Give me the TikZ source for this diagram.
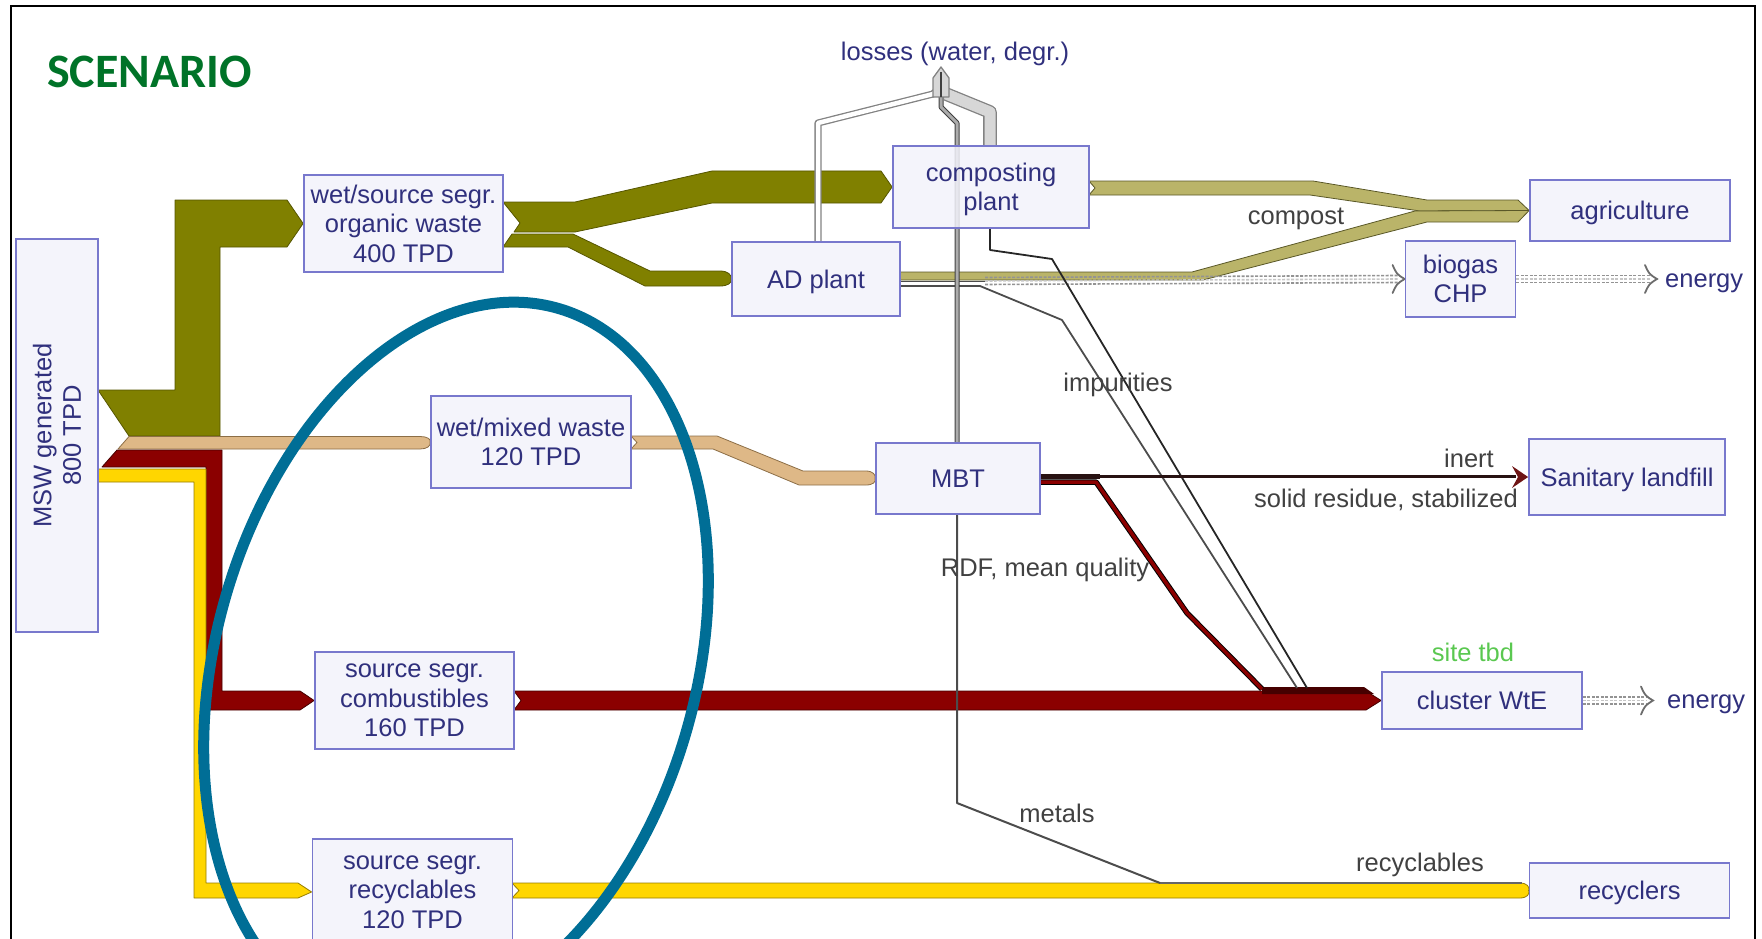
\documentclass[tikz,border=0pt]{standalone}
\usepackage{fontspec}
\setmainfont{Liberation Sans}
\newfontfamily\scenfont{Carlito}
\usetikzlibrary{calc}
\pgfdeclarelayer{bg}
\pgfsetlayers{bg,main}
\definecolor{boxline}{RGB}{120,120,205}
\definecolor{boxfill}{RGB}{242,242,250}
\definecolor{boxtext}{RGB}{48,48,125}
\definecolor{labtext}{RGB}{65,65,65}
\definecolor{olivef}{RGB}{128,128,0}
\definecolor{olived}{RGB}{85,85,0}
\definecolor{khakif}{RGB}{186,180,105}
\definecolor{khakid}{RGB}{90,88,40}
\definecolor{tanf}{RGB}{222,184,135}
\definecolor{tand}{RGB}{140,110,70}
\definecolor{redf}{RGB}{139,0,0}
\definecolor{redd}{RGB}{70,0,0}
\definecolor{yelf}{RGB}{255,214,0}
\definecolor{yeld}{RGB}{150,125,0}
\definecolor{ellc}{RGB}{0,110,150}
\definecolor{scen}{RGB}{0,115,40}
\definecolor{sitec}{RGB}{90,200,80}
\definecolor{lossd}{RGB}{130,130,130}
\definecolor{lossf}{RGB}{215,215,215}
\definecolor{inertc}{RGB}{40,18,18}
\definecolor{inerth}{RGB}{110,20,20}
\newcommand{\bfnt}{\fontsize{25.5}{29.5}\selectfont}
\newcommand\enarrow[2]{%
 \draw[enline] ($(#1)+(0,-3.5)$) -- ($(#2)+(-7,-3.5)$);
 \draw[enline] ($(#1)+(0,3.5)$) -- ($(#2)+(-7,3.5)$);
 \draw[enline,draw=gray!45] (#1) -- ($(#2)+(-7,0)$);
 \draw[enhead] ($(#2)+(-12,-14)$) .. controls ($(#2)+(-8,-5)$) .. (#2) .. controls ($(#2)+(-8,5)$) .. ($(#2)+(-12,14)$);
}
\begin{document}
\begin{tikzpicture}[x=1pt,y=-1pt,
 box/.style={draw=boxline, line width=1.8pt, fill=boxfill, fill opacity=0.85, text opacity=1, text=boxtext, font=\bfnt, align=center, inner sep=0pt},
 flat/.style={text depth=0pt},
 lab/.style={text=labtext, font=\bfnt, inner sep=0pt, text depth=0pt},
 flowo/.style={fill=olivef, draw=olived, line width=0.8pt, line join=round},
 flowk/.style={fill=khakif, draw=khakid, line width=0.8pt, line join=round},
 flowt/.style={fill=tanf, draw=tand, line width=0.8pt, line join=round},
 flowr/.style={fill=redf, draw=redd, line width=0.8pt, line join=round},
 flowy/.style={fill=yelf, draw=yeld, line width=0.8pt, line join=round},
 lossdbl/.style={draw=lossd, line width=1.3pt, double=white, double distance=4.5pt, line join=round},
 losswide/.style={draw=lossd, line width=1.3pt, double=lossf, double distance=11pt, line join=round},
 lossmid/.style={draw=gray!50!black, line width=1pt, double=gray!65, double distance=3pt, line join=round},
 imp/.style={draw=black!85, line width=1.8pt, line join=round},
 metal/.style={draw=black!70, line width=2pt, line join=round},
 enline/.style={draw=gray!85, line width=1.6pt, dash pattern=on 3pt off 1.5pt},
 enhead/.style={draw=gray!85!black, line width=1.8pt, line cap=round}
]
\useasboundingbox (0,0) rectangle (1762,939);
\clip (0,0) rectangle (1762,939);

% boxes
\node[box, minimum width=393pt, minimum height=82pt, rotate=90] (msw) at (57,435.5) {MSW generated\\800 TPD};
\node[box, minimum width=199pt, minimum height=97pt] (wss) at (403.5,223.5) {wet/source segr.\\organic waste\\400 TPD};
\node[box, flat, minimum width=196pt, minimum height=82pt] (comp) at (991,187) {composting\\plant};
\node[box, flat, minimum width=168pt, minimum height=74pt] (ad) at (816,279) {AD plant};
\node[box, flat, minimum width=200pt, minimum height=61pt] (agri) at (1630,210.5) {agriculture};
\node[box, minimum width=110pt, minimum height=76pt] (chp) at (1460.5,279) {biogas\\CHP};
\node[box, minimum width=200pt, minimum height=92pt] (wmw) at (531,442) {wet/mixed waste\\120 TPD};
\node[box, minimum width=164pt, minimum height=71pt] (mbt) at (958,478.5) {MBT};
\node[box, flat, minimum width=196pt, minimum height=76pt] (land) at (1627,477) {Sanitary landfill};
\node[box, minimum width=200pt, minimum height=57pt] (wte) at (1482,700.5) {cluster WtE};
\node[box, minimum width=199pt, minimum height=97pt] (comb) at (414.5,700.5) {source segr.\\combustibles\\160 TPD};
\node[box, minimum width=200pt, minimum height=106pt] (recy) at (412.5,892) {source segr.\\recyclables\\120 TPD};
\node[box, flat, minimum width=200pt, minimum height=55pt] (recl) at (1629.5,890.5) {recyclers};

% labels
\node[anchor=west, text=scen, font=\scenfont\bfseries\fontsize{48}{50}\selectfont, inner sep=0pt] (scen) at (47,72) {SCENARIO};
\node[lab, text=boxtext] (lloss) at (955,51) {losses (water, degr.)};
\node[lab] (lcompost) at (1296,216) {compost};
\node[lab] (limp) at (1118,382) {impurities};
\node[lab] (linert) at (1469,458) {inert};
\node[lab] (lsolid) at (1386,498) {solid residue, stabilized};
\node[lab] (lrdf) at (1045,567) {RDF, mean quality};
\node[lab, text=sitec] (lsite) at (1473,652) {site tbd};
\node[lab, text=boxtext, anchor=west] (len1) at (1665,281) {energy};
\node[lab, text=boxtext, anchor=west] (len2) at (1667,702) {energy};
\node[lab] (lmet) at (1057,813) {metals};
\node[lab] (lrec) at (1420,862) {recyclables};

\begin{pgfonlayer}{bg}
% MSW outputs
\draw[flowo] (98,390) -- (175,390) -- (175,200) -- (287,200) -- (wss.west) -- (287,247) -- (220,247) -- (220,436) -- (129,436) -- cycle;
\draw[flowt] (129,436.5) -- (420,436.5) .. controls (427,436.5) and (431,439) .. (wmw.west) .. controls (431,446) and (427,449) .. (420,449) -- (118,449) -- cycle;
\draw[flowr] (117,450) -- (222,450) -- (222,691) -- (300,691) -- (comb.west) -- (300,710) -- (206,710) -- (206,467) -- (102,467) -- cycle;
\draw[flowy] (98,469) -- (206,469) -- (206,883) -- (298,883) -- (recy.west) -- (298,898) -- (194,898) -- (194,482) -- (98,482) -- cycle;
% organic
\draw[flowo] (503,202) -- (575,202) -- (712,171) -- (881,171) -- (comp.west) -- (881,203) -- (712,203) -- (575,232) -- (514,232) -- (520,223) -- cycle;
\draw[flowo] (512,234) -- (573,234) -- (650,271) -- (720,271) .. controls (728,271) and (732,275) .. (ad.west) .. controls (732,283) and (728,286) .. (720,286) -- (645,286) -- (568,247) -- (503,247) -- cycle;
% compost
\draw[flowk] (1089,181) -- (1313,181) -- (1427,200) -- (1518,200) -- (agri.west) -- (1420,211) -- (1310,195) -- (1089,195) -- (1095,188) -- cycle;
\draw[flowk] (900,272) -- (1192,272) -- (1415,211) -- (agri.west) -- (1518,222) -- (1427,222) -- (1203,280) -- (900,280) -- cycle;
% mixed waste
\draw[flowt] (631,436) -- (717,436) -- (803,471) -- (866,471) .. controls (873,471) and (876,475) .. (mbt.west) .. controls (876,482) and (873,485) .. (866,485) -- (799,485) -- (713,449) -- (631,449) -- (637,442.5) -- cycle;
% combustibles
\draw[flowr] (514,691) -- (1366,691) -- (wte.west) -- (1366,710) -- (514,710) -- (521,700.5) -- cycle;
\fill[redd] (1262,687) -- (1364,687) -- (1374,694) -- (1262,694) -- cycle;
% recyclables
\draw[flowy] (512,883) -- (1520,883) .. controls (1527,883) and (1530,887) .. (recl.west) .. controls (1530,894) and (1527,898) .. (1520,898) -- (512,898) -- (519,890.5) -- cycle;
\draw[draw=black!60, line width=1.5pt] (1160,883) -- (1522,883);
% biogas
\draw[draw=gray!60!black, line width=1pt] (ad.east |- 0,281) -- (985,281);
\enarrow{985,281}{chp.west}
\enarrow{chp.east}{1657,279}
\enarrow{wte.east}{1653,700.5}
% impurities
\draw[imp] (990,0 |- comp.south) -- (990,250) -- (1052,259) -- (1307,688);
\draw[imp, draw=black!70] (ad.east |- 0,286) -- (980,286) -- (1062,320) -- (1297,688);
% MBT outputs
\draw[draw=black, line width=1pt, double=redf, double distance=3.5pt, line join=round] (mbt.east |- 0,482) -- (1096,482) -- (1187,613) -- (1262,689);
\draw[draw=inertc, line width=5pt] (mbt.east |- 0,476.5) -- (1100,476.5);
\draw[draw=inertc, line width=3.5pt] (1100,476.5) -- (1516,476.5);
\fill[inerth] (1512,466) -- (land.west) -- (1512,488) -- (1518,477) -- cycle;
\draw[metal] (957,0 |- mbt.south) -- (957,803) -- (1160,883);
% losses
\draw[lossmid] (957,0 |- mbt.north) -- (957,123) -- (941,107) -- (941,90);
\draw[lossdbl] (818,0 |- ad.north) -- (818,123) -- (933,94) -- (935,92);
\draw[losswide] (990,0 |- comp.north) -- (990,112) -- (946,94);
\draw[draw=lossd, fill=lossf, line width=1.3pt, line join=round] (933,97) -- (933,78) -- (941,67) -- (949,78) -- (949,97) -- cycle;
\draw[draw=gray!50!black, line width=1.5pt] (941,72) -- (941,97);
\end{pgfonlayer}

% highlight ellipse
\draw[ellc, line width=11pt, rotate around={-16:(456,664)}] (456,664) ellipse [x radius=240pt, y radius=370pt];
% frame
\draw[line width=1.8pt, black] (11,960) -- (11,6) -- (1755,6) -- (1755,960);
\end{tikzpicture}
\end{document}
